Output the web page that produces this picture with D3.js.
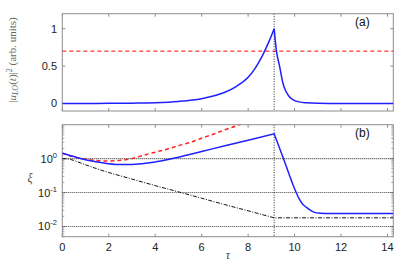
<!DOCTYPE html>
<html>
<head>
<meta charset="utf-8">
<script src="https://cdn.jsdelivr.net/npm/d3@7"></script>
<style>
  body { margin: 0; background: #fff; }
  svg text { font-family: "Liberation Sans", Arial, sans-serif; }
</style>
</head>
<body>
<svg id="chart" width="415" height="279"></svg>
<script>
// panel (a): |u_LO(t)|^2
const tauA = [0, 1, 2, 3, 4, 5, 6, 6.5, 7, 7.5, 8, 8.3, 8.6, 8.9, 9.12,
              9.22, 9.36, 9.5, 9.6, 9.75, 9.94, 10.2, 10.5, 11, 12, 14.25];
const uLO = [0, 0.001, 0.002, 0.005, 0.011, 0.028, 0.065, 0.1, 0.15, 0.23, 0.35, 0.47, 0.63, 0.83, 1.0,
             0.7, 0.49, 0.27, 0.18, 0.1, 0.05, 0.022, 0.01, 0.003, 0.0, 0.0];
const thresholdA = 0.7;

// panel (b): xi
const tauBlue = [0, 0.5, 1, 1.5, 2, 2.5, 3, 3.5, 4, 4.5, 5, 6, 7, 8, 9.12,
                 9.5, 10, 10.2, 10.35, 10.5, 10.8, 11.1, 11.5, 12, 14.25];
const xiBlue = [1.45, 1.15, 0.93, 0.8, 0.71, 0.67, 0.67, 0.72, 0.8, 0.93, 1.1, 1.62, 2.4, 3.5, 5.4,
                1.1, 0.13, 0.065, 0.045, 0.037, 0.027, 0.0245, 0.024, 0.024, 0.024];
const tauRed = [0, 0.5, 1, 1.5, 2, 2.5, 3, 3.5, 4, 4.5, 5, 5.5, 6, 6.5, 7, 7.5, 7.8];
const xiRed = [1.45, 1.12, 0.97, 0.88, 0.85, 0.89, 1.0, 1.26, 1.55, 1.9, 2.4, 3.0, 4.0, 5.25, 7.1, 9.3, 11.5];
const tauBlack = [0, 0.3, 0.5, 1, 1.5, 2, 3, 4, 5, 6, 7, 8, 9.12, 14.25];
const xiBlack = [1.0, 0.97, 0.88, 0.66, 0.5, 0.39, 0.25, 0.16, 0.105, 0.068, 0.044, 0.029, 0.018, 0.018];
const refLevels = [1, 0.1, 0.01];
const tauStop = 9.12;

const xTicks = [0, 2, 4, 6, 8, 10, 12, 14];
const yTicksA = [0, 0.5, 1];
const yTicksB = [1, 0.1, 0.01];
const yTickExp = ["0", "-1", "-2"];

const svg = d3.select("#chart");
const frame = "#8c8c8c";

const x = d3.scaleLinear().domain([0, 14.25]).range([62.3, 393.3]);
const yA = d3.scaleLinear().domain([-0.1, 1.2]).range([111, 13.7]);
const yB = d3.scaleLog().domain([0.005, 10]).range([236.7, 124.7]);

function zip(a, b) { return a.map((v, i) => [v, b[i]]); }

// smooth on each side of the switch-off time, sharp corner at it
function splitPath(pts, gen) {
    const k = pts.findIndex(p => p[0] === tauStop);
    if (k < 0) return gen(pts);
    return gen(pts.slice(0, k + 1)) + gen(pts.slice(k)).replace(/^M/, "L");
}

function drawFrame(top, bottom) {
    const g = svg.append("g");
    g.append("rect")
        .attr("x", x.range()[0]).attr("y", top)
        .attr("width", x.range()[1] - x.range()[0]).attr("height", bottom - top)
        .attr("fill", "none").attr("stroke", frame).attr("stroke-width", 1);
    xTicks.forEach(t => {
        g.append("line").attr("x1", x(t)).attr("x2", x(t)).attr("y1", top).attr("y2", top + 3)
            .attr("stroke", frame);
        g.append("line").attr("x1", x(t)).attr("x2", x(t)).attr("y1", bottom).attr("y2", bottom - 3)
            .attr("stroke", frame);
    });
    return g;
}

// ---------- panel (a)
const gA = drawFrame(13.7, 111);
yTicksA.forEach(v => {
    gA.append("line").attr("x1", x.range()[0]).attr("x2", x.range()[0] + 3)
        .attr("y1", yA(v)).attr("y2", yA(v)).attr("stroke", frame);
    gA.append("line").attr("x1", x.range()[1]).attr("x2", x.range()[1] - 3)
        .attr("y1", yA(v)).attr("y2", yA(v)).attr("stroke", frame);
    gA.append("text").attr("x", 57).attr("y", yA(v)).attr("dy", "0.35em")
        .attr("text-anchor", "end").attr("font-size", 11).attr("fill", "#222")
        .text(v);
});

svg.append("clipPath").attr("id", "clipA").append("rect")
    .attr("x", x.range()[0]).attr("y", 13.7).attr("width", x.range()[1] - x.range()[0]).attr("height", 97.3);

const plotA = svg.append("g").attr("clip-path", "url(#clipA)");
plotA.append("line")
    .attr("x1", x.range()[0]).attr("x2", x.range()[1])
    .attr("y1", yA(thresholdA)).attr("y2", yA(thresholdA))
    .attr("stroke", "#ff0000").attr("stroke-width", 1).attr("stroke-dasharray", "4,3");
plotA.append("line")
    .attr("x1", x(tauStop)).attr("x2", x(tauStop)).attr("y1", 13.7).attr("y2", 111)
    .attr("stroke", "#222").attr("stroke-width", 1).attr("stroke-dasharray", "1,1.5");
const lineA = d3.line().x(d => x(d[0])).y(d => yA(d[1])).curve(d3.curveMonotoneX);
plotA.append("path")
    .attr("d", splitPath(zip(tauA, uLO), lineA))
    .attr("fill", "none").attr("stroke", "#1f1fff").attr("stroke-width", 1.5);

svg.append("text").attr("x", 355).attr("y", 26).attr("font-size", 12).attr("fill", "#111").text("(a)");

const labA = svg.append("text")
    .attr("transform", "translate(16,60) rotate(-90)")
    .attr("text-anchor", "middle")
    .style("font-family", "'Liberation Serif', 'DejaVu Serif', serif")
    .attr("font-size", 11).attr("fill", "#666");
labA.append("tspan").text("|");
labA.append("tspan").attr("font-style", "italic").text("u");
labA.append("tspan").attr("font-style", "italic").attr("font-size", 8).attr("dy", 2).text("LO");
labA.append("tspan").attr("dy", -2).text("(");
labA.append("tspan").attr("font-style", "italic").text("t");
labA.append("tspan").text(")|");
labA.append("tspan").attr("font-size", 8).attr("dy", -4).text("2");
labA.append("tspan").attr("dy", 4).text(" (arb. units)");

// ---------- panel (b)
const gB = drawFrame(124.7, 236.7);
const minor = [];
[0.001, 0.01, 0.1, 1].forEach(d => { for (let k = 1; k < 10; k++) minor.push(d * k); });
minor.filter(v => v >= 0.005 && v <= 10).forEach(v => {
    const len = refLevels.includes(v) ? 3.5 : 2;
    gB.append("line").attr("x1", x.range()[0]).attr("x2", x.range()[0] + len)
        .attr("y1", yB(v)).attr("y2", yB(v)).attr("stroke", frame).attr("stroke-width", 0.8);
    gB.append("line").attr("x1", x.range()[1]).attr("x2", x.range()[1] - len)
        .attr("y1", yB(v)).attr("y2", yB(v)).attr("stroke", frame).attr("stroke-width", 0.8);
});
yTicksB.forEach((v, i) => {
    const t = svg.append("text").attr("x", 57).attr("y", yB(v) + 4)
        .attr("text-anchor", "end").attr("font-size", 11).attr("fill", "#222");
    t.append("tspan").text("10");
    t.append("tspan").attr("font-size", 7.5).attr("dy", -5).text(yTickExp[i]);
});
xTicks.forEach(v => {
    svg.append("text").attr("x", x(v)).attr("y", 251).attr("text-anchor", "middle")
        .attr("font-size", 11).attr("fill", "#222").text(v);
});

svg.append("clipPath").attr("id", "clipB").append("rect")
    .attr("x", x.range()[0]).attr("y", 124.7).attr("width", x.range()[1] - x.range()[0]).attr("height", 112);
const plotB = svg.append("g").attr("clip-path", "url(#clipB)");

refLevels.forEach(v => {
    plotB.append("line")
        .attr("x1", x.range()[0]).attr("x2", x.range()[1])
        .attr("y1", yB(v)).attr("y2", yB(v))
        .attr("stroke", "#444").attr("stroke-width", 1.1).attr("stroke-dasharray", "1,1");
});
plotB.append("line")
    .attr("x1", x(tauStop)).attr("x2", x(tauStop)).attr("y1", 124.7).attr("y2", 236.7)
    .attr("stroke", "#222").attr("stroke-width", 1).attr("stroke-dasharray", "1,1.5");

const lineB = d3.line().x(d => x(d[0])).y(d => yB(d[1])).curve(d3.curveMonotoneX);
plotB.append("path").attr("d", splitPath(zip(tauBlack, xiBlack), lineB))
    .attr("fill", "none").attr("stroke", "#111").attr("stroke-width", 1)
    .attr("stroke-dasharray", "4,1.5,1,1.5");
plotB.append("path").attr("d", lineB(zip(tauRed, xiRed)))
    .attr("fill", "none").attr("stroke", "#ff2020").attr("stroke-width", 1.5)
    .attr("stroke-dasharray", "4,3");
plotB.append("path").attr("d", splitPath(zip(tauBlue, xiBlue), lineB))
    .attr("fill", "none").attr("stroke", "#1f1fff").attr("stroke-width", 1.5);

svg.append("text").attr("x", 355).attr("y", 137).attr("font-size", 12).attr("fill", "#111").text("(b)");

svg.append("text").attr("x", 30).attr("y", 182).attr("text-anchor", "middle")
    .style("font-family", "'Liberation Serif', 'DejaVu Serif', serif")
    .attr("font-style", "italic").attr("font-size", 12).attr("fill", "#444").text("ξ");
svg.append("text").attr("x", 228).attr("y", 259).attr("text-anchor", "middle")
    .style("font-family", "'Liberation Serif', 'DejaVu Serif', serif")
    .attr("font-style", "italic").attr("font-size", 12).attr("fill", "#444").text("τ");
</script>
</body>
</html>
